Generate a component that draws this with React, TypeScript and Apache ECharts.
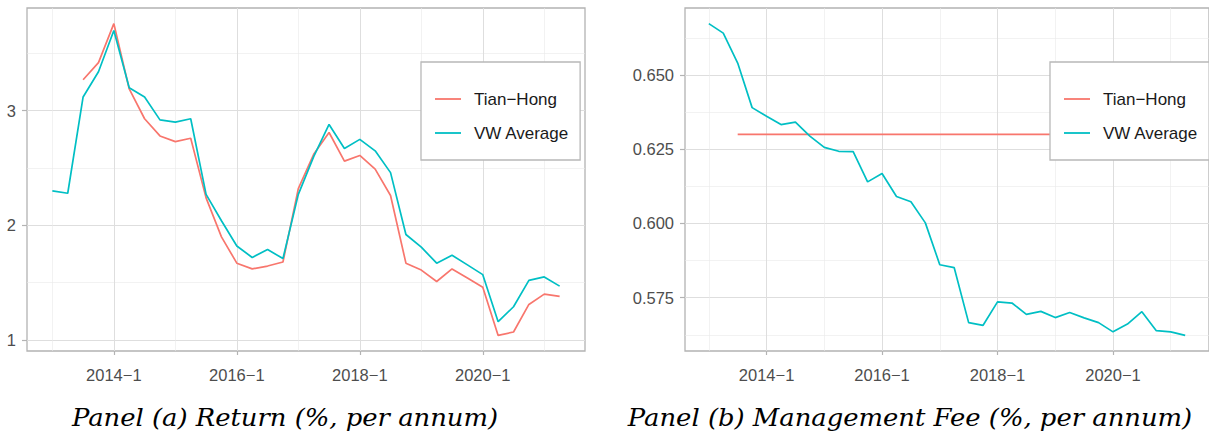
import React, { useEffect, useRef } from "react";
import * as echarts from "echarts";

// ---- data ----
const QUARTERS = [
  "2013-1", "2013-2", "2013-3", "2013-4",
  "2014-1", "2014-2", "2014-3", "2014-4",
  "2015-1", "2015-2", "2015-3", "2015-4",
  "2016-1", "2016-2", "2016-3", "2016-4",
  "2017-1", "2017-2", "2017-3", "2017-4",
  "2018-1", "2018-2", "2018-3", "2018-4",
  "2019-1", "2019-2", "2019-3", "2019-4",
  "2020-1", "2020-2", "2020-3", "2020-4",
  "2021-1", "2021-2",
];

const RETURN_TIANHONG = [
  null, null, 3.27, 3.42, 3.76, 3.19, 2.93, 2.78, 2.73, 2.76, 2.24, 1.90,
  1.67, 1.62, 1.645, 1.68, 2.32, 2.62, 2.81, 2.56, 2.61, 2.49, 2.26, 1.67,
  1.61, 1.51, 1.62, 1.54, 1.46, 1.04, 1.07, 1.31, 1.40, 1.38,
];
const RETURN_VW = [
  2.30, 2.28, 3.12, 3.34, 3.70, 3.20, 3.12, 2.92, 2.90, 2.93, 2.27, 2.04,
  1.82, 1.72, 1.79, 1.71, 2.27, 2.60, 2.88, 2.67, 2.75, 2.65, 2.46, 1.92,
  1.81, 1.67, 1.74, 1.655, 1.57, 1.16, 1.29, 1.52, 1.55, 1.47,
];

const FEE_TIANHONG = [
  null, null, 0.630, 0.630, 0.630, 0.630, 0.630, 0.630, 0.630, 0.630, 0.630, 0.630,
  0.630, 0.630, 0.630, 0.630, 0.630, 0.630, 0.630, 0.630, 0.630, 0.630, 0.630, 0.630,
  0.630, 0.630, 0.630, 0.630, 0.630, 0.630, 0.630, 0.630, 0.630, 0.630,
];
const FEE_VW = [
  0.6673, 0.6641, 0.6540, 0.6390, 0.6361, 0.6333, 0.6341, 0.6294, 0.6256, 0.6243,
  0.6242, 0.6140, 0.6168, 0.6091, 0.6073, 0.6002, 0.5861, 0.5851, 0.5666, 0.5657,
  0.5736, 0.5732, 0.5694, 0.5704, 0.5683, 0.5700, 0.5682, 0.5666, 0.5635, 0.5661,
  0.5703, 0.5639, 0.5635, 0.5623,
];

const SERIES_NAMES = ["Tian\u2212Hong", "VW Average"];
const X_TICKS = [2014, 2016, 2018, 2020];
const Y_TICKS_RETURN = [1, 2, 3];
const Y_TICKS_FEE = [0.575, 0.6, 0.625, 0.65];
const CAPTIONS = [
  "Panel (a) Return (%, per annum)",
  "Panel (b) Management Fee (%, per annum)",
];

const COLORS = ["#F8766D", "#00BFC4"];

const quarterToX = (q: string) => {
  const [y, n] = q.split("-").map(Number);
  return y + (n - 1) / 4;
};

const toPoints = (vals: (number | null)[]) =>
  QUARTERS.map((q, i) => [quarterToX(q), vals[i]]).filter((p) => p[1] != null);

const expand = (vals: (number | null)[][]) => {
  const all = vals.flat().filter((v) => v != null) as number[];
  const lo = Math.min(...all);
  const hi = Math.max(...all);
  const pad = (hi - lo) * 0.05;
  return [lo - pad, hi + pad];
};

export default function App() {
  const ref = useRef<HTMLDivElement>(null);

  useEffect(() => {
    if (!ref.current) return;
    const chart = echarts.init(ref.current, undefined, { renderer: "svg" });

    const xs = QUARTERS.map(quarterToX);
    const xPad = (Math.max(...xs) - Math.min(...xs)) * 0.05;
    const xMin = Math.min(...xs) - xPad;
    const xMax = Math.max(...xs) + xPad;
    const [yaMin, yaMax] = expand([RETURN_TIANHONG, RETURN_VW]);
    const [ybMin, ybMax] = expand([FEE_TIANHONG, FEE_VW]);

    const gridLine = { lineStyle: { color: "#dedede", width: 1 } };
    const minorLine = { show: true, lineStyle: { color: "#e9e9e9", width: 0.6 } };
    const tickStyle = { color: "#b3b3b3", width: 1.2 };
    const labelBase = {
      color: "#4d4d4d",
      fontSize: 16.5,
      fontFamily: "Liberation Sans",
    };

    const xAxis = (gridIndex: number) => ({
      type: "value",
      gridIndex,
      min: xMin,
      max: xMax,
      splitNumber: 5,
      minInterval: 2,
      maxInterval: 2,
      axisLine: { show: false },
      axisTick: { show: true, length: 4, lineStyle: tickStyle, customValues: X_TICKS },
      axisLabel: {
        ...labelBase,
        margin: 15,
        customValues: X_TICKS,
        formatter: (v: number) => `${v}\u22121`,
      },
      splitLine: gridLine,
      minorTick: { show: false, splitNumber: 2 },
      minorSplitLine: minorLine,
    });

    const legend = (left: number) => ({
      data: SERIES_NAMES.map((name) => ({ name, icon: "rect" })),
      orient: "vertical",
      left,
      top: 62,
      padding: [27, 11, 17, 14],
      itemGap: 14,
      itemWidth: 26,
      itemHeight: 1.8,
      selectedMode: false,
      backgroundColor: "#ffffff",
      borderColor: "#b8b8b8",
      borderWidth: 1.3,
      textStyle: {
        fontSize: 17,
        color: "#1a1a1a",
        fontFamily: "Liberation Sans",
        lineHeight: 20,
        padding: [0, 0, 0, 8],
      },
      z: 10,
    });

    const line = (name: string, color: string, xi: number, vals: (number | null)[]) => ({
      type: "line",
      name,
      xAxisIndex: xi,
      yAxisIndex: xi,
      data: toPoints(vals),
      symbol: "none",
      showSymbol: false,
      lineStyle: { color, width: 1.7 },
      itemStyle: { color },
      silent: true,
    });

    const caption = (text: string, x: number) => ({
      type: "text",
      x,
      y: 418,
      scaleX: 1.1,
      style: {
        text,
        fontFamily: "DejaVu Serif",
        fontStyle: "italic",
        fontSize: 23.5,
        fill: "#000",
        align: "center",
        verticalAlign: "middle",
      },
    });

    chart.setOption({
      animation: false,
      textStyle: { fontFamily: "Liberation Sans" },
      grid: [
        { left: 27, top: 8, width: 558, height: 343, show: true, borderColor: "#b3b3b3", borderWidth: 1.3, backgroundColor: "#fff" },
        { left: 685, top: 8, width: 524, height: 343, show: true, borderColor: "#b3b3b3", borderWidth: 1.3, backgroundColor: "#fff" },
      ],
      xAxis: [xAxis(0), xAxis(1)],
      yAxis: [
        {
          type: "value",
          gridIndex: 0,
          min: yaMin,
          max: yaMax,
          splitNumber: 3,
          minInterval: 1,
          maxInterval: 1,
          axisLine: { show: false },
          axisTick: { show: true, length: 5, lineStyle: tickStyle, customValues: Y_TICKS_RETURN },
          axisLabel: { ...labelBase, margin: 11, customValues: Y_TICKS_RETURN, formatter: (v: number) => `${v}` },
          splitLine: gridLine,
          minorTick: { show: false, splitNumber: 2 },
          minorSplitLine: minorLine,
        },
        {
          type: "value",
          gridIndex: 1,
          min: ybMin,
          max: ybMax,
          splitNumber: 4,
          minInterval: 0.025,
          maxInterval: 0.025,
          axisLine: { show: false },
          axisTick: { show: true, length: 5, lineStyle: tickStyle, customValues: Y_TICKS_FEE },
          axisLabel: { ...labelBase, margin: 11, customValues: Y_TICKS_FEE, formatter: (v: number) => v.toFixed(3) },
          splitLine: gridLine,
          minorTick: { show: false, splitNumber: 2 },
          minorSplitLine: minorLine,
        },
      ],
      legend: [legend(421), legend(1050)],
      series: [
        line(SERIES_NAMES[0], COLORS[0], 0, RETURN_TIANHONG),
        line(SERIES_NAMES[1], COLORS[1], 0, RETURN_VW),
        line(SERIES_NAMES[0], COLORS[0], 1, FEE_TIANHONG),
        line(SERIES_NAMES[1], COLORS[1], 1, FEE_VW),
      ],
      graphic: [caption(CAPTIONS[0], 285), caption(CAPTIONS[1], 910)],
    });

    return () => chart.dispose();
  }, []);

  return (
    <div
      ref={ref}
      style={{ position: "absolute", left: 0, top: 0, width: 1209, height: 436 }}
    />
  );
}
